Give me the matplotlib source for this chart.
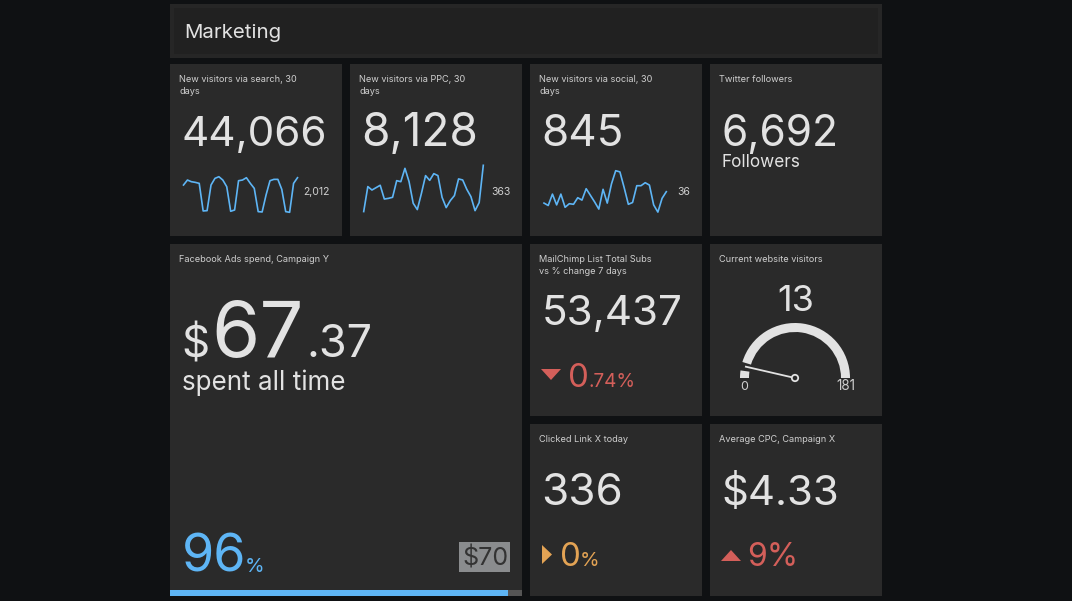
import matplotlib
matplotlib.use("Agg")
import matplotlib.pyplot as plt
from matplotlib.patches import Rectangle, Wedge, Circle, Polygon

plt.rcParams['font.family'] = ['Inter', 'DejaVu Sans']

# sparklines
search_visits = [1598, 1880, 1786, 1748, 1692, 132, 150, 1598, 1974, 2068,
                 1880, 1504, 113, 188, 1842, 1880, 2012, 1692, 1410, 94,
                 75, 1034, 1842, 1918, 1918, 1354, 94, 56, 1692, 2012]
ppc_visits = [13, 202, 176, 194, 212, 108, 113, 121, 247, 239,
              340, 239, 76, 28, 151, 285, 249, 300, 285, 121,
              43, 96, 134, 260, 252, 181, 126, 20, 81, 363]
social_visits = [17, 13, 32, 14, 32, 10, 16, 15, 26, 22,
                 41, 30, 19, 7, 40, 17, 49, 71, 69, 43,
                 15, 18, 46, 46, 51, 47, 14, 2, 25, 36]

gauge_value = 13
gauge_max = 181
ad_spend = 67.37
ad_budget = 70

BG = '#0f1113'
TILE = '#2a2a2a'
TEXT = '#e2e2e2'
SMALL = '#cfcfcf'
BLUE = '#5eb5f5'
RED = '#d45f5a'
ORANGE = '#e3a354'

fig = plt.figure(figsize=(10.72, 6.01), dpi=100, facecolor=BG)
ax = fig.add_axes([0, 0, 1, 1])
ax.set_xlim(0, 1072)
ax.set_ylim(601, 0)
ax.axis('off')


def px(size):
    return size * 0.72


def tile(x, y, w, h, color=TILE):
    ax.add_patch(Rectangle((x, y), w, h, facecolor=color, edgecolor='none'))


def label(x, y, s, size, color=TEXT, **kw):
    ax.text(x, y, s, fontsize=px(size), color=color, va='baseline', ha=kw.pop('ha', 'left'), **kw)


def spark(x0, x1, y0, y1, values, top):
    # y0 is the pixel row of value 0, y1 the row of value top
    a = fig.add_axes([x0 / 1072, 1 - y0 / 601, (x1 - x0) / 1072, (y0 - y1) / 601])
    a.plot(range(len(values)), values, color=BLUE, linewidth=1.2, clip_on=False)
    a.set_xlim(0, len(values) - 1)
    a.set_ylim(0, top)
    a.axis('off')


# header
tile(170, 4, 712, 54, '#262626')
tile(174, 8, 704, 46, '#212121')
label(184.5, 38, 'Marketing', 20.5)

for x, y, w, h in [(170, 64, 172, 172), (350, 64, 172, 172), (530, 64, 172, 172),
                   (710, 64, 172, 172), (170, 244, 352, 352), (530, 244, 172, 172),
                   (710, 244, 172, 172), (530, 424, 172, 172), (710, 424, 172, 172)]:
    tile(x, y, w, h)

# top row
label(179, 82, 'New visitors via search, 30', 9.2, SMALL)
label(179, 94, 'days', 9.2, SMALL)
label(182, 146, '44,066', 42.2)
spark(183.5, 297.5, 213.3, 177.7, search_visits, 2012)
label(303, 195, '2,012', 10.5, SMALL)

label(359, 82, 'New visitors via PPC, 30', 9.2, SMALL)
label(359, 94, 'days', 9.2, SMALL)
label(361, 146, '8,128', 46)
spark(363.7, 483.3, 213.3, 165.3, ppc_visits, 363)
label(491, 195, '363', 10.5, SMALL)

label(539, 82, 'New visitors via social, 30', 9.2, SMALL)
label(539, 94, 'days', 9.2, SMALL)
label(541, 146, '845', 44)
spark(544, 666.3, 213.3, 191.7, social_visits, 36)
label(677.5, 195, '36', 10.5, SMALL)

label(719, 82, 'Twitter followers', 9.2, SMALL)
label(721, 146, '6,692', 42.5)
label(721.5, 167, 'Followers', 17.2)

# facebook tile
label(179, 262, 'Facebook Ads spend, Campaign Y', 9.2, SMALL)
dollars, cents = f'{ad_spend:.2f}'.split('.')
label(181.5, 357, '$', 44)
label(211, 357, dollars, 78)
label(306.5, 357, '.' + cents, 45)
label(181.5, 390, 'spent all time', 26)
label(182, 572, f'{ad_spend / ad_budget * 100:.0f}', 52, BLUE)
label(245, 572, '%', 20, BLUE)
tile(459, 542, 51, 30, '#8a8c8e')
label(462.5, 566, f'${ad_budget}', 25, '#333333')
tile(170, 590, 352, 6, '#555555')
tile(170, 590, 338, 6, BLUE)

# mailchimp
label(539, 262, 'MailChimp List Total Subs', 9.2, SMALL)
label(539, 274, 'vs % change 7 days', 9.2, SMALL)
label(542, 325, '53,437', 42.2)
ax.add_patch(Polygon([(541, 369), (561, 369), (551, 380)], facecolor=RED, edgecolor='none'))
label(567.5, 387, '0', 33, RED)
label(588, 387, '.74%', 19, RED)

# gauge
label(719, 262, 'Current website visitors', 9.2, SMALL)
label(795.5, 311, str(gauge_value), 36, ha='center')
cx, cy = 795, 378
frac = gauge_value / gauge_max
ax.add_patch(Wedge((cx, cy), 55, 180, 180 + 180 * frac - 5, width=9, facecolor=TEXT, edgecolor='none'))
ax.add_patch(Wedge((cx, cy), 55, 180 + 180 * frac + 4, 360, width=9, facecolor=TEXT, edgecolor='none'))
ax.plot([cx, 745], [cy, 366.5], color=TEXT, linewidth=1.3, solid_capstyle='butt')
ax.add_patch(Circle((cx, cy), 3.2, facecolor=TILE, edgecolor=TEXT, linewidth=1.3, zorder=5))
label(744, 390, '0', 12.5, SMALL, ha='center')
label(845.5, 390, str(gauge_max), 13.5, SMALL, ha='center')

# clicked link
label(539, 442, 'Clicked Link X today', 9.2, SMALL)
label(541, 505, '336', 44)
ax.add_patch(Polygon([(542, 545), (552, 554.5), (542, 564)], facecolor=ORANGE, edgecolor='none'))
label(560.5, 566, '0', 33, ORANGE)
label(580, 566, '%', 20, ORANGE)

# cpc
label(719, 442, 'Average CPC, Campaign X', 9.2, SMALL)
label(721, 505, '$4.33', 42)
ax.add_patch(Polygon([(721, 561), (741, 561), (731, 550)], facecolor=RED, edgecolor='none'))
label(747.5, 566, '9%', 32, RED)

fig.savefig('out.png', dpi=100, facecolor=BG)
